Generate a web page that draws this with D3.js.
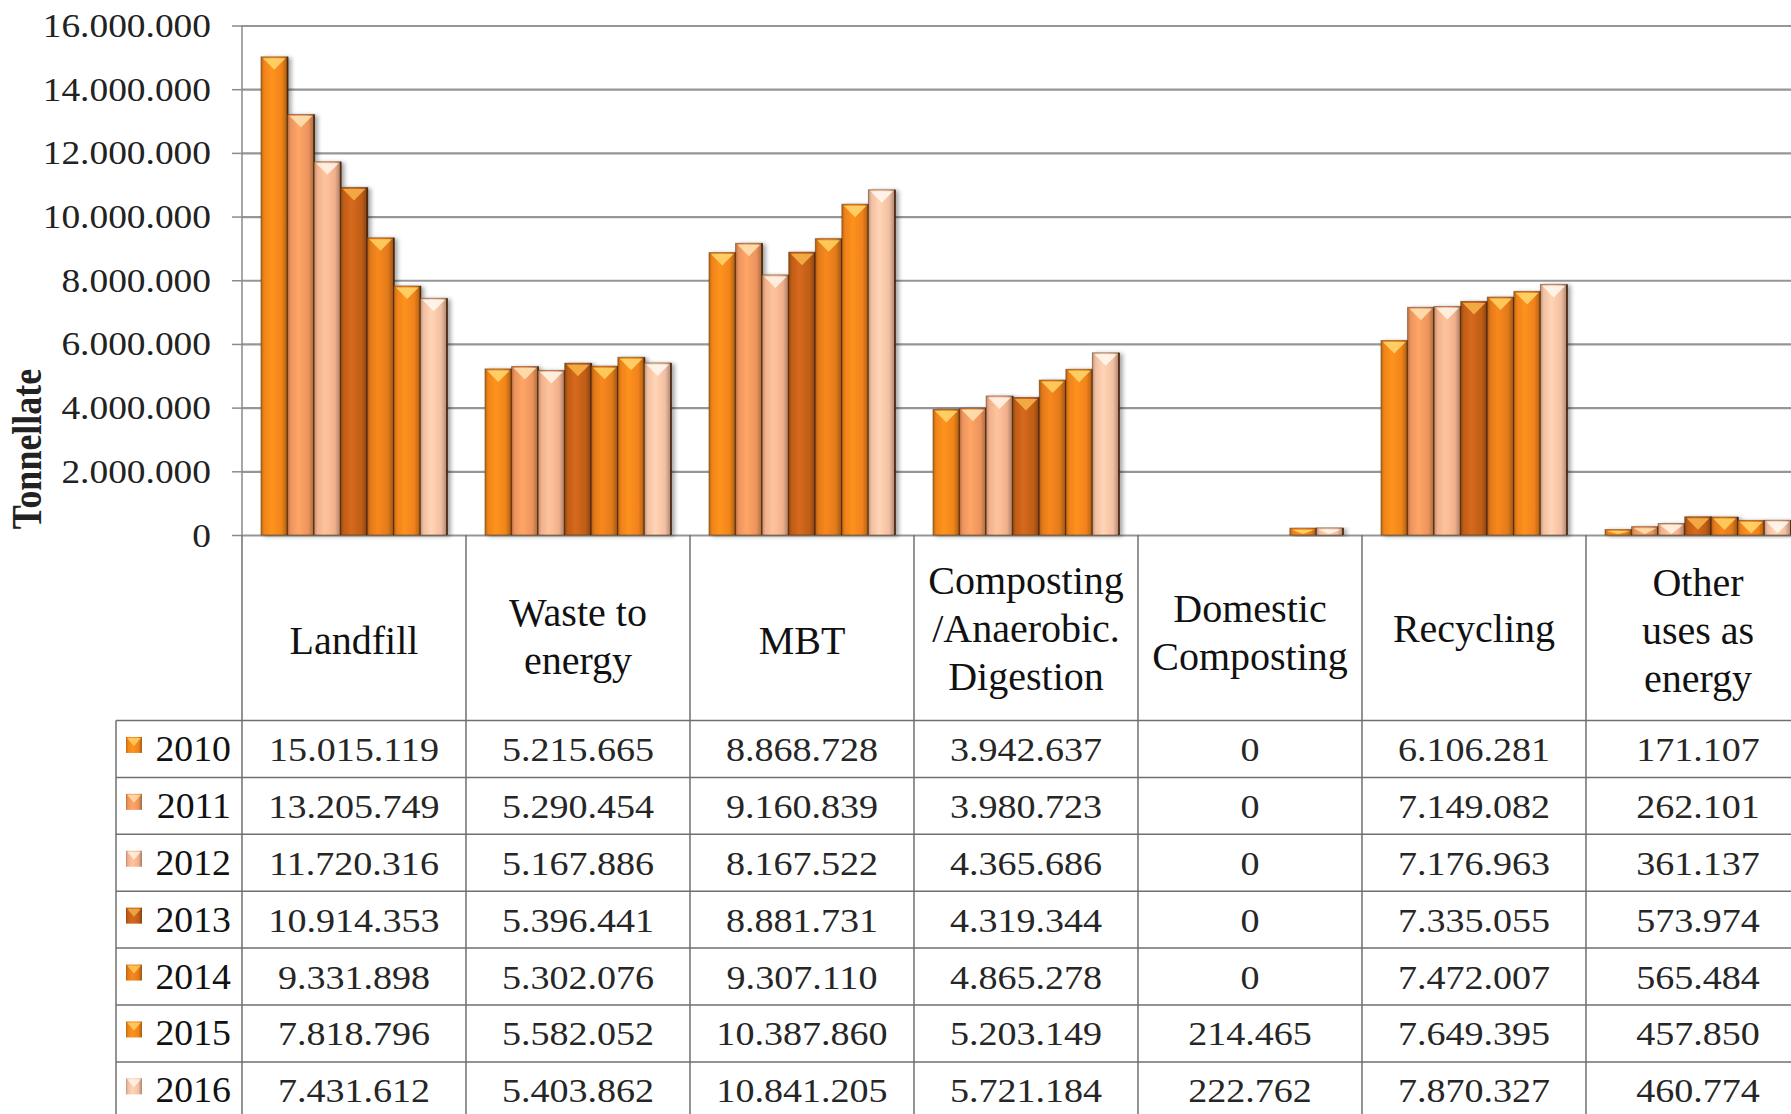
<!DOCTYPE html>
<html>
<head>
<meta charset="utf-8">
<script src="https://cdn.jsdelivr.net/npm/d3@7"></script>
<style>
  body { margin: 0; background: #fff; }
  text { font-family: "Liberation Serif", "Times New Roman", serif; }
</style>
</head>
<body>
<script>
// Data
var categories = ["Landfill", "Waste to energy", "MBT", "Composting /Anaerobic. Digestion",
  "Domestic Composting", "Recycling", "Other uses as energy"];
var headerLines = [["Landfill"], ["Waste to", "energy"], ["MBT"], ["Composting", "/Anaerobic.", "Digestion"],
  ["Domestic", "Composting"], ["Recycling"], ["Other", "uses as", "energy"]];
var years = ["2010", "2011", "2012", "2013", "2014", "2015", "2016"];

var v2010 = [15015119, 5215665, 8868728, 3942637, 0, 6106281, 171107];
var v2011 = [13205749, 5290454, 9160839, 3980723, 0, 7149082, 262101];
var v2012 = [11720316, 5167886, 8167522, 4365686, 0, 7176963, 361137];
var v2013 = [10914353, 5396441, 8881731, 4319344, 0, 7335055, 573974];
var v2014 = [9331898, 5302076, 9307110, 4865278, 0, 7472007, 565484];
var v2015 = [7818796, 5582052, 10387860, 5203149, 214465, 7649395, 457850];
var v2016 = [7431612, 5403862, 10841205, 5721184, 222762, 7870327, 460774];
var yTicks = [0, 2000000, 4000000, 6000000, 8000000, 10000000, 12000000, 14000000, 16000000];

var series = [v2010, v2011, v2012, v2013, v2014, v2015, v2016];
var yearColors = ["#f0841a", "#ec945c", "#f1b08c", "#c05e18", "#e17a1a", "#ef821a", "#f2bfa3"];
var capColors = ["#ffd46a", "#ffe0b0", "#fff2e4", "#f6b048", "#ffcf60", "#ffd46a", "#fff6ee"];
var headerNudge = [12, 8, 12, 0, 4, 0, 2];

// Chart configuration
var width = 1791, height = 1114;
var axisX = 242, colW = 224;
var baseY = 535, topY = 25.5;
var tableTop = 720.5, rowH = 56.9, tableLeft = 116;
var lineGap = 48;

var fmt = d3.formatLocale({decimal: ",", thousands: ".", grouping: [3], currency: ["", ""]}).format(",d");

var svg = d3.select("body").append("svg")
  .attr("width", width)
  .attr("height", height);

var defs = svg.append("defs");
years.forEach(function(yr, i) {
  var base = d3.color(yearColors[i]);
  var g = defs.append("linearGradient").attr("id", "grad" + yr)
    .attr("x1", 0).attr("x2", 1).attr("y1", 0).attr("y2", 0);
  g.append("stop").attr("offset", "0%").attr("stop-color", base.darker(0.7));
  g.append("stop").attr("offset", "12%").attr("stop-color", base);
  g.append("stop").attr("offset", "40%").attr("stop-color", base.brighter(0.3));
  g.append("stop").attr("offset", "78%").attr("stop-color", base);
  g.append("stop").attr("offset", "100%").attr("stop-color", base.darker(1));
});
var shadow = defs.append("filter").attr("id", "shadow")
  .attr("x", "-10%").attr("y", "-10%").attr("width", "130%").attr("height", "130%");
shadow.append("feDropShadow").attr("dx", 3).attr("dy", 1).attr("stdDeviation", 2)
  .attr("flood-color", "#000").attr("flood-opacity", 0.35);

// Scales
var x0 = d3.scaleBand().domain(categories).range([axisX, axisX + colW * categories.length]);
var x1 = d3.scaleBand().domain(years).range([19, 205]);
var y = d3.scaleLinear().domain([0, 16000000]).range([baseY, topY]);

// Gridlines
var grid = svg.append("g").attr("transform", "translate(" + axisX + ",0)")
  .call(d3.axisLeft(y).tickValues(yTicks).tickSize(-(width - axisX)).tickFormat(""));
grid.select(".domain").remove();
grid.selectAll(".tick line").attr("stroke", "#969696").attr("stroke-width", 2.2);

// Axis ticks and labels
var yAxis = svg.append("g").attr("transform", "translate(" + axisX + ",0)")
  .call(d3.axisLeft(y).tickValues(yTicks).tickSize(10).tickFormat(fmt));
yAxis.attr("font-family", null).attr("font-size", null);
yAxis.select(".domain").attr("stroke", "#8a8a8a").attr("stroke-width", 1.5)
  .attr("d", "M0," + topY + "V" + baseY);
yAxis.selectAll(".tick line").attr("stroke", "#8a8a8a").attr("stroke-width", 1.5);
yAxis.selectAll(".tick text")
  .attr("x", 0).attr("dy", null)
  .attr("transform", "translate(-31,11) scale(1.1,1)")
  .attr("font-size", 34).attr("fill", "#222");

svg.append("text")
  .attr("transform", "translate(41,449) scale(1.2,1) rotate(-90)")
  .attr("text-anchor", "middle")
  .attr("font-size", 36).attr("font-weight", "bold").attr("fill", "#222")
  .text("Tonnellate");

// Bars
var groups = svg.selectAll("g.cat").data(categories).enter().append("g")
  .attr("class", "cat")
  .attr("filter", "url(#shadow)")
  .attr("transform", function(d) { return "translate(" + x0(d) + ",0)"; });

groups.each(function(cat, ci) {
  var g = d3.select(this);
  years.forEach(function(yr, yi) {
    var v = series[yi][ci];
    if (v <= 0) return;
    var bx = x1(yr), bw = x1.bandwidth();
    var top = y(v), h = baseY - top;
    g.append("rect")
      .attr("x", bx).attr("y", top).attr("width", bw).attr("height", h)
      .attr("fill", "url(#grad" + yr + ")")
      .attr("stroke", "#5a2c08").attr("stroke-opacity", 0.5).attr("stroke-width", 1);
    g.append("line")
      .attr("x1", bx + bw).attr("x2", bx + bw).attr("y1", top).attr("y2", baseY)
      .attr("stroke", "#3a1c06").attr("stroke-opacity", 0.8).attr("stroke-width", 1.8);
    var ch = Math.min(13, h - 1);
    g.append("path")
      .attr("d", "M" + (bx + 2) + "," + (top + 1.5) + "L" + (bx + bw - 2) + "," + (top + 1.5) +
        "L" + (bx + bw / 2) + "," + (top + ch) + "Z")
      .attr("fill", capColors[yi]).attr("opacity", 0.9);
  });
});

// Table lines
var tbl = svg.append("g").attr("stroke", "#6f6f6f").attr("stroke-width", 1.5);
d3.range(categories.length + 1).forEach(function(i) {
  var xx = axisX + i * colW;
  tbl.append("line").attr("x1", xx).attr("x2", xx).attr("y1", baseY).attr("y2", height);
});
tbl.append("line").attr("x1", tableLeft).attr("x2", tableLeft).attr("y1", tableTop).attr("y2", height);
d3.range(years.length + 1).forEach(function(i) {
  var yy = tableTop + i * rowH;
  tbl.append("line").attr("x1", tableLeft).attr("x2", width).attr("y1", yy).attr("y2", yy);
});

// Header labels
categories.forEach(function(cat, ci) {
  var lines = headerLines[ci];
  var cx = x0(cat) + colW / 2;
  var first = (baseY + tableTop) / 2 + 14 + headerNudge[ci] - (lines.length - 1) * lineGap / 2;
  var t = svg.append("text").attr("text-anchor", "middle").attr("font-size", 40).attr("fill", "#111");
  lines.forEach(function(ln, li) {
    t.append("tspan").attr("x", cx).attr("y", first + li * lineGap).text(ln);
  });
});

// Rows: legend key, year and values
years.forEach(function(yr, yi) {
  var cy = tableTop + yi * rowH + rowH / 2;
  svg.append("rect")
    .attr("x", 126).attr("y", cy - 12).attr("width", 16).attr("height", 16)
    .attr("fill", "url(#grad" + yr + ")");
  svg.append("path")
    .attr("d", "M127," + (cy - 11) + "L141," + (cy - 11) + "L134," + (cy - 3) + "Z")
    .attr("fill", capColors[yi]).attr("opacity", 0.8);
  svg.append("text")
    .attr("transform", "translate(231," + (cy + 12) + ") scale(1.08,1)")
    .attr("text-anchor", "end").attr("font-size", 35).attr("fill", "#111")
    .text(yr);
  categories.forEach(function(cat, ci) {
    svg.append("text")
      .attr("transform", "translate(" + (x0(cat) + colW / 2) + "," + (cy + 12) + ") scale(1.12,1)")
      .attr("text-anchor", "middle").attr("font-size", 34).attr("fill", "#262626")
      .text(fmt(series[yi][ci]));
  });
});
</script>
</body>
</html>
